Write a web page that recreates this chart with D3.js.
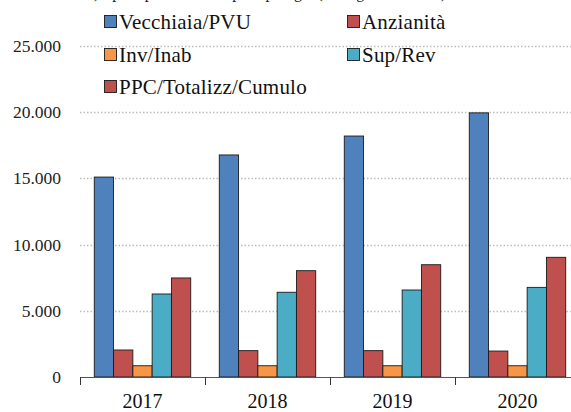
<!DOCTYPE html>
<html>
<head>
<meta charset="utf-8">
<script src="https://cdn.jsdelivr.net/npm/d3@7"></script>
<style>
  body { margin: 0; background: #fff; }
  svg { display: block; font-family: "Liberation Serif", "DejaVu Serif", serif; }
</style>
</head>
<body>
<svg id="chart" width="571" height="412"></svg>
<script>
const years = ['2017', '2018', '2019', '2020'];
const seriesNames = ['Vecchiaia/PVU', 'Anzianità', 'Inv/Inab', 'Sup/Rev', 'PPC/Totalizz/Cumulo'];
const seriesColors = ['#4f81bd', '#c0504d', '#f79646', '#4bacc6', '#c0504d'];
const vecchiaia = [15100, 16770, 18200, 19950];
const anzianita = [2040, 1990, 1990, 1960];
const invInab = [850, 850, 850, 850];
const supRev = [6270, 6400, 6570, 6770];
const ppc = [7480, 8030, 8480, 9040];
const yTicks = [0, 5000, 10000, 15000, 20000, 25000];

const values = [vecchiaia, anzianita, invInab, supRev, ppc];
const rows = [];
years.forEach((yr, i) => {
    seriesNames.forEach((s, j) => rows.push({ year: yr, series: s, idx: j, value: values[j][i] }));
});

const svg = d3.select('#chart');
const plotLeft = 80, plotRight = 580, plotBottom = 377, plotTop = 46;

const x0 = d3.scaleBand().domain(years).range([plotLeft, plotRight]).padding(0);
const x1 = d3.scaleBand().domain(seriesNames).range([0, x0.bandwidth()]).paddingInner(0).paddingOuter(0.74);
const y = d3.scaleLinear().domain([0, 25000]).range([plotBottom, plotTop]);

const fmt = v => d3.format(',')(v).replace(/,/g, '.');

// title, mostly cut off by the top edge in the reference
svg.append('text')
    .attr('x', 446).attr('y', -2.5)
    .attr('text-anchor', 'end')
    .attr('font-size', 16)
    .attr('fill', '#222')
    .text('Tav. 1) Spesa pensionistica per tipologia (in migliaia di euro)');

// grid
svg.append('g')
    .selectAll('line')
    .data(yTicks.filter(d => d > 0))
    .enter()
    .append('line')
    .attr('x1', plotLeft).attr('x2', 571)
    .attr('y1', d => Math.round(y(d)) + 0.5).attr('y2', d => Math.round(y(d)) + 0.5)
    .attr('stroke', '#bdbdbd')
    .attr('stroke-width', 1.3)
    .attr('stroke-dasharray', '1.5,2');

// y labels
svg.append('g')
    .selectAll('text')
    .data(yTicks)
    .enter()
    .append('text')
    .attr('x', 61)
    .attr('y', d => y(d) + 6)
    .attr('text-anchor', 'end')
    .attr('font-size', 17.5)
    .attr('fill', '#222')
    .text(fmt);

// bars
svg.append('g')
    .selectAll('rect')
    .data(rows)
    .enter()
    .append('rect')
    .attr('x', d => x0(d.year) + x1(d.series))
    .attr('y', d => y(d.value))
    .attr('width', x1.bandwidth())
    .attr('height', d => plotBottom - y(d.value))
    .attr('fill', d => seriesColors[d.idx])
    .attr('stroke', '#1a1a1a')
    .attr('stroke-width', 0.9);

// x axis
const xAxis = svg.append('g');
xAxis.append('line')
    .attr('x1', plotLeft).attr('x2', 571)
    .attr('y1', plotBottom + 0.5).attr('y2', plotBottom + 0.5)
    .attr('stroke', '#555').attr('stroke-width', 1);
xAxis.selectAll('.tick')
    .data(years.concat(['end']))
    .enter()
    .append('line')
    .attr('x1', (d, i) => plotLeft + i * x0.bandwidth() + 0.5)
    .attr('x2', (d, i) => plotLeft + i * x0.bandwidth() + 0.5)
    .attr('y1', plotBottom).attr('y2', plotBottom + 8)
    .attr('stroke', '#333');
xAxis.selectAll('text')
    .data(years)
    .enter()
    .append('text')
    .attr('x', d => x0(d) + x0.bandwidth() / 2)
    .attr('y', 408)
    .attr('text-anchor', 'middle')
    .attr('font-size', 20)
    .attr('fill', '#111')
    .text(d => d);

// legend
const legendPos = [[104, 22], [347, 22], [104, 55], [347, 55], [104, 87]];
const legend = svg.append('g')
    .selectAll('g')
    .data(seriesNames)
    .enter()
    .append('g')
    .attr('transform', (d, i) => `translate(${legendPos[i][0]},${legendPos[i][1]})`);
legend.append('rect')
    .attr('x', 0.5).attr('y', -6.5)
    .attr('width', 12).attr('height', 12)
    .attr('fill', (d, i) => seriesColors[i])
    .attr('stroke', '#1a1a1a').attr('stroke-width', 0.9);
legend.append('text')
    .attr('x', 15).attr('y', 7)
    .attr('font-size', 21)
    .attr('letter-spacing', 0.2)
    .attr('fill', '#111')
    .text(d => d);
</script>
</body>
</html>
